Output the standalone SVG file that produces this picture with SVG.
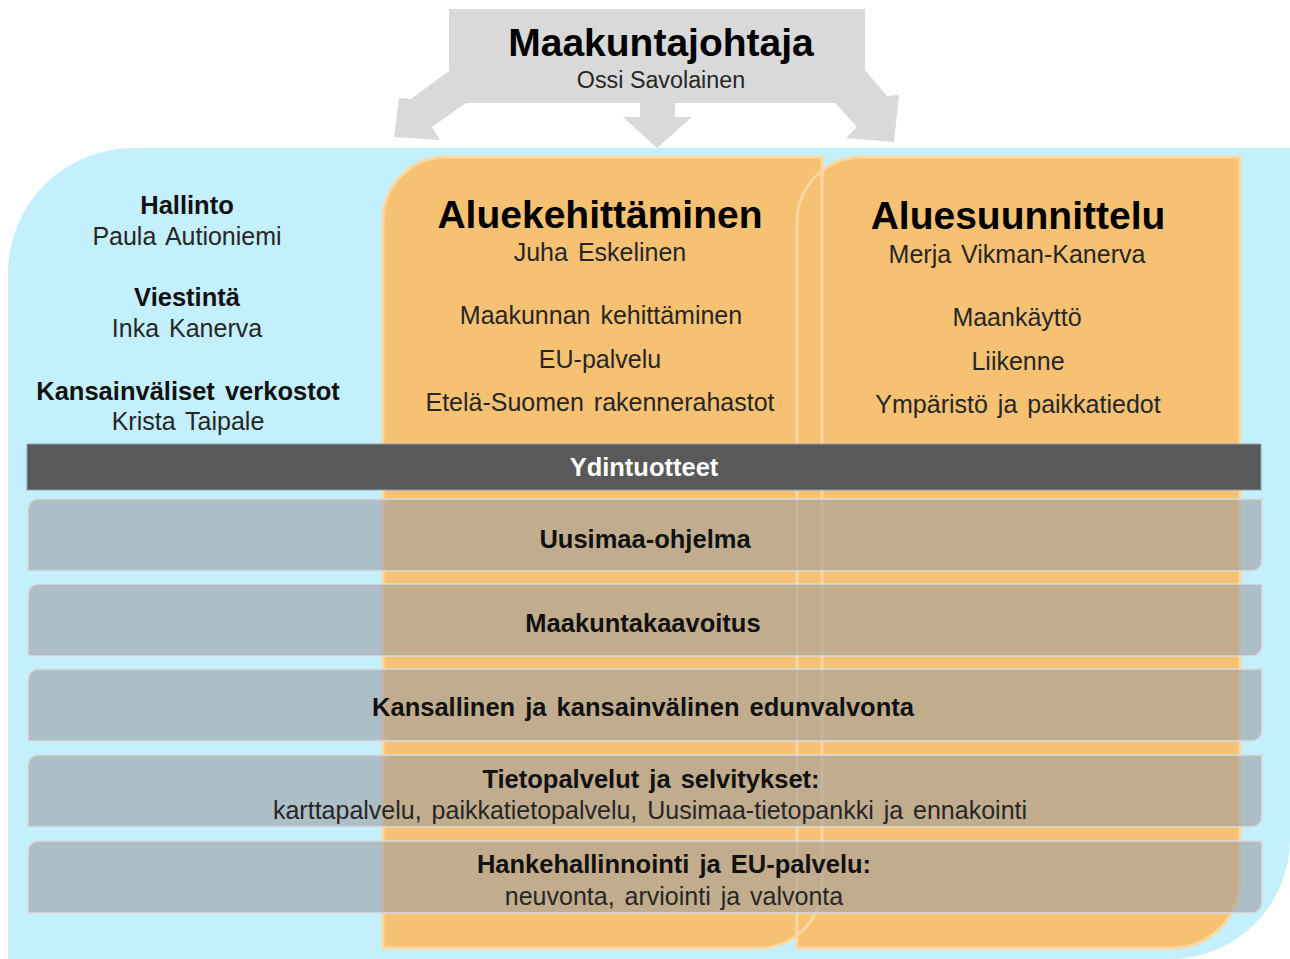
<svg xmlns="http://www.w3.org/2000/svg" width="1290" height="959" viewBox="0 0 1290 959">
<style>
text{font-family:"Liberation Sans",Arial,sans-serif;text-anchor:middle;fill:#1c1c1c}
.b{font-weight:bold}
.t{font-size:39px;font-weight:bold;fill:#000}
.h{font-size:25.5px;font-weight:bold;fill:#111;word-spacing:3px}
.r{font-size:25px;fill:#262626;word-spacing:3px}
.panel{fill:#f6c172}
.pline{fill:none;stroke:#fbd7a1;stroke-width:3}
.band{fill:#9e9ea1;fill-opacity:0.6;stroke:#d9dde0;stroke-width:1.5}
</style>
<rect width="1290" height="959" fill="#ffffff"/>
<g id="background">
<path d="M 8 959 L 8 273 A 125 125 0 0 1 133 148 L 1290 148 L 1290 838 A 120 120 0 0 1 1170 959 Z" fill="#c4effd"/>
</g>
<g id="maakuntajohtaja">
<polygon points="449,9 865,9 865,70 887,96 899,95 894,142 846,138 857,127 835,103 675,103 675,117 692,117 657,148 623,117 640,117 640,103 466,103 432,127 440,140 394,137 399,98 411,99 449,71" fill="#d9d9d9"/>
<text x="661" y="56" class="t">Maakuntajohtaja</text>
<text x="661" y="88" font-size="23.3" style="fill:#262626">Ossi Savolainen</text>
</g>
<g id="panel-aluekehittaminen">
<path class="panel" d="M 383 948 L 383 220 A 63 63 0 0 1 446 157 L 822 157 L 822 885 A 63 63 0 0 1 759 948 Z"/>
</g>
<g id="panel-aluesuunnittelu">
<path class="panel" d="M 797 948 L 797 222 A 65 65 0 0 1 862 157 L 1240 157 L 1240 880 A 68 68 0 0 1 1172 948 Z"/>
<path class="pline" d="M 797 948 L 797 222 A 65 65 0 0 1 862 157 L 1240 157 L 1240 880 A 68 68 0 0 1 1172 948 Z"/>
</g>
<g id="panel-aluekehittaminen-outline">
<path class="pline" d="M 383 948 L 383 220 A 63 63 0 0 1 446 157 L 822 157 L 822 885 A 63 63 0 0 1 759 948 Z"/>
</g>
<g id="hallinto">
<text x="187" y="214" class="h">Hallinto</text>
<text x="187" y="245" class="r">Paula Autioniemi</text>
</g>
<g id="viestinta">
<text x="187" y="306" class="h">Viestintä</text>
<text x="187" y="337" class="r">Inka Kanerva</text>
</g>
<g id="kansainvaliset">
<text x="188" y="400" class="h">Kansainväliset verkostot</text>
<text x="188" y="430" class="r">Krista Taipale</text>
</g>
<g id="aluekehittaminen-text">
<text x="600" y="228" class="t">Aluekehittäminen</text>
<text x="600" y="261" class="r">Juha Eskelinen</text>
<text x="601" y="324" class="r">Maakunnan kehittäminen</text>
<text x="600" y="368" class="r">EU-palvelu</text>
<text x="600" y="411" class="r">Etelä-Suomen rakennerahastot</text>
</g>
<g id="aluesuunnittelu-text">
<text x="1018" y="229" class="t">Aluesuunnittelu</text>
<text x="1017" y="263" class="r">Merja Vikman-Kanerva</text>
<text x="1017" y="326" class="r">Maankäyttö</text>
<text x="1018" y="370" class="r">Liikenne</text>
<text x="1018" y="413" class="r">Ympäristö ja paikkatiedot</text>
</g>
<g id="ydintuotteet">
<rect x="27" y="444" width="1234" height="46" fill="#595959" stroke="#8aa6b0" stroke-width="1"/>
<text x="644" y="476" class="b" font-size="25.5" style="fill:#ffffff">Ydintuotteet</text>
</g>
<g id="uusimaa-ohjelma">
<path class="band" d="M 28 571 L 28 509 A 10 10 0 0 1 38 499 L 1262 499 L 1262 561 A 10 10 0 0 1 1252 571 Z"/>
<text x="645" y="548" class="h">Uusimaa-ohjelma</text>
</g>
<g id="maakuntakaavoitus">
<path class="band" d="M 28 656 L 28 594 A 10 10 0 0 1 38 584 L 1262 584 L 1262 646 A 10 10 0 0 1 1252 656 Z"/>
<text x="643" y="632" class="h">Maakuntakaavoitus</text>
</g>
<g id="edunvalvonta">
<path class="band" d="M 28 741 L 28 679 A 10 10 0 0 1 38 669 L 1262 669 L 1262 731 A 10 10 0 0 1 1252 741 Z"/>
<text x="643" y="716" class="h">Kansallinen ja kansainvälinen edunvalvonta</text>
</g>
<g id="tietopalvelut">
<path class="band" d="M 28 827 L 28 765 A 10 10 0 0 1 38 755 L 1262 755 L 1262 817 A 10 10 0 0 1 1252 827 Z"/>
<text x="651" y="788" class="h">Tietopalvelut ja selvitykset:</text>
<text x="650" y="819" class="r">karttapalvelu, paikkatietopalvelu, Uusimaa-tietopankki ja ennakointi</text>
</g>
<g id="hankehallinnointi">
<path class="band" d="M 28 913 L 28 851 A 10 10 0 0 1 38 841 L 1262 841 L 1262 903 A 10 10 0 0 1 1252 913 Z"/>
<text x="674" y="873" class="h">Hankehallinnointi ja EU-palvelu:</text>
<text x="674" y="905" class="r">neuvonta, arviointi ja valvonta</text>
</g>
<g id="connectors"/>
</svg>
